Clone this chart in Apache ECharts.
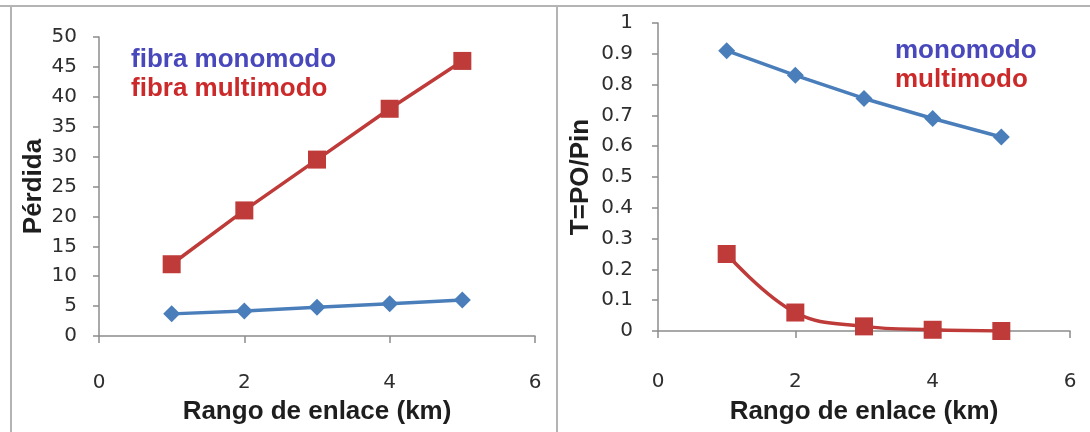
<!DOCTYPE html>
<html>
<head>
<meta charset="utf-8">
<script src="https://cdn.jsdelivr.net/npm/echarts@6/dist/echarts.min.js"></script>
<style>html,body{margin:0;padding:0;background:#fff}#c{width:1090px;height:432px}</style>
</head>
<body>
<div id="c"></div>
<script>
// Data
const xRange = [1, 2, 3, 4, 5];
const perdidaMono = [3.7, 4.2, 4.8, 5.4, 6.0];
const perdidaMulti = [12, 21, 29.5, 38, 46];
const tMono = [0.91, 0.83, 0.755, 0.69, 0.63];
const tMulti = [0.25, 0.06, 0.015, 0.004, 0.0];
const seriesNamesLeft = ['fibra monomodo', 'fibra multimodo'];
const seriesNamesRight = ['monomodo', 'multimodo'];
const xTitle = 'Rango de enlace (km)';
const yTitleLeft = 'Pérdida';
const yTitleRight = 'T=PO/Pin';

const pair = (xs, ys) => xs.map((x, i) => [x, ys[i]]);

const BLUE = '#4a7ebb', RED = '#be3b39';
const BLUE_TXT = '#4848bc', RED_TXT = '#cc2a2a';
const axisGray = '#8c8c8c';
const tickFont = {fontFamily: 'DejaVu Sans', fontSize: 20, color: '#2e2e2e'};
const titleFont = {fontFamily: 'Liberation Sans', fontSize: 26, fontWeight: 'bold', color: '#1e1e1e'};

function xAxisCfg(gridIndex, gap, margin) {
  return {
    type: 'value', gridIndex, min: 0, max: 6, interval: 2,
    name: xTitle, nameLocation: 'middle', nameGap: gap, nameTextStyle: titleFont,
    axisLine: {show: true, lineStyle: {color: axisGray, width: 1.5}},
    axisTick: {show: true, length: 7, lineStyle: {color: axisGray, width: 1.5}},
    axisLabel: Object.assign({margin}, tickFont),
    splitLine: {show: false}
  };
}
function yAxisCfg(gridIndex, max, interval, name, gap, margin) {
  return {
    type: 'value', gridIndex, min: 0, max, interval,
    name, nameLocation: 'middle', nameGap: gap, nameTextStyle: titleFont,
    axisLine: {show: true, lineStyle: {color: axisGray, width: 1.5}},
    axisTick: {show: true, length: 6, lineStyle: {color: axisGray, width: 1.5}},
    axisLabel: Object.assign({margin, formatter: v => String(+v.toFixed(2))}, tickFont),
    splitLine: {show: false}
  };
}

const chart = echarts.init(document.getElementById('c'));
chart.setOption({
  animation: false,
  backgroundColor: '#fff',
  grid: [
    {left: 99, right: 555, top: 37, bottom: 96},
    {left: 658, right: 20, top: 23, bottom: 101}
  ],
  xAxis: [xAxisCfg(0, 63, 37), xAxisCfg(1, 68, 41)],
  yAxis: [
    yAxisCfg(0, 50, 5, yTitleLeft, 52, 22),
    yAxisCfg(1, 1, 0.1, yTitleRight, 64, 25)
  ],
  legend: [
    {
      left: 126, top: 45, orient: 'vertical', icon: 'none', itemWidth: 0, itemGap: 0, padding: 0,
      selectedMode: false,
      textStyle: {fontFamily: 'Liberation Sans', fontSize: 26, fontWeight: 'bold', lineHeight: 29},
      data: [
        {name: seriesNamesLeft[0], textStyle: {color: BLUE_TXT}},
        {name: seriesNamesLeft[1], textStyle: {color: RED_TXT}}
      ]
    },
    {
      left: 890, top: 36, orient: 'vertical', icon: 'none', itemWidth: 0, itemGap: 0, padding: 0,
      selectedMode: false,
      textStyle: {fontFamily: 'Liberation Sans', fontSize: 26, fontWeight: 'bold', lineHeight: 29},
      data: [
        {name: seriesNamesRight[0], textStyle: {color: BLUE_TXT}},
        {name: seriesNamesRight[1], textStyle: {color: RED_TXT}}
      ]
    }
  ],
  series: [
    {name: seriesNamesLeft[0], type: 'line', xAxisIndex: 0, yAxisIndex: 0, data: pair(xRange, perdidaMono),
     symbol: 'diamond', symbolSize: 17, itemStyle: {color: BLUE}, lineStyle: {color: BLUE, width: 3.5}},
    {name: seriesNamesLeft[1], type: 'line', xAxisIndex: 0, yAxisIndex: 0, data: pair(xRange, perdidaMulti),
     symbol: 'rect', symbolSize: 18, itemStyle: {color: RED}, lineStyle: {color: RED, width: 3.5}},
    {name: seriesNamesRight[0], type: 'line', xAxisIndex: 1, yAxisIndex: 1, data: pair(xRange, tMono),
     symbol: 'diamond', symbolSize: 17, itemStyle: {color: BLUE}, lineStyle: {color: BLUE, width: 3.5}},
    {name: seriesNamesRight[1], type: 'line', xAxisIndex: 1, yAxisIndex: 1, data: pair(xRange, tMulti),
     smooth: 0.4, symbol: 'rect', symbolSize: 18, itemStyle: {color: RED}, lineStyle: {color: RED, width: 3.5}}
  ],
  graphic: [
    {type: 'line', shape: {x1: 0, y1: 6, x2: 1090, y2: 6}, style: {stroke: '#b4b4b4', lineWidth: 2}, silent: true},
    {type: 'line', shape: {x1: 11, y1: 6, x2: 11, y2: 432}, style: {stroke: '#b4b4b4', lineWidth: 2}, silent: true},
    {type: 'line', shape: {x1: 557, y1: 6, x2: 557, y2: 432}, style: {stroke: '#b4b4b4', lineWidth: 2}, silent: true}
  ]
});
</script>
</body>
</html>
